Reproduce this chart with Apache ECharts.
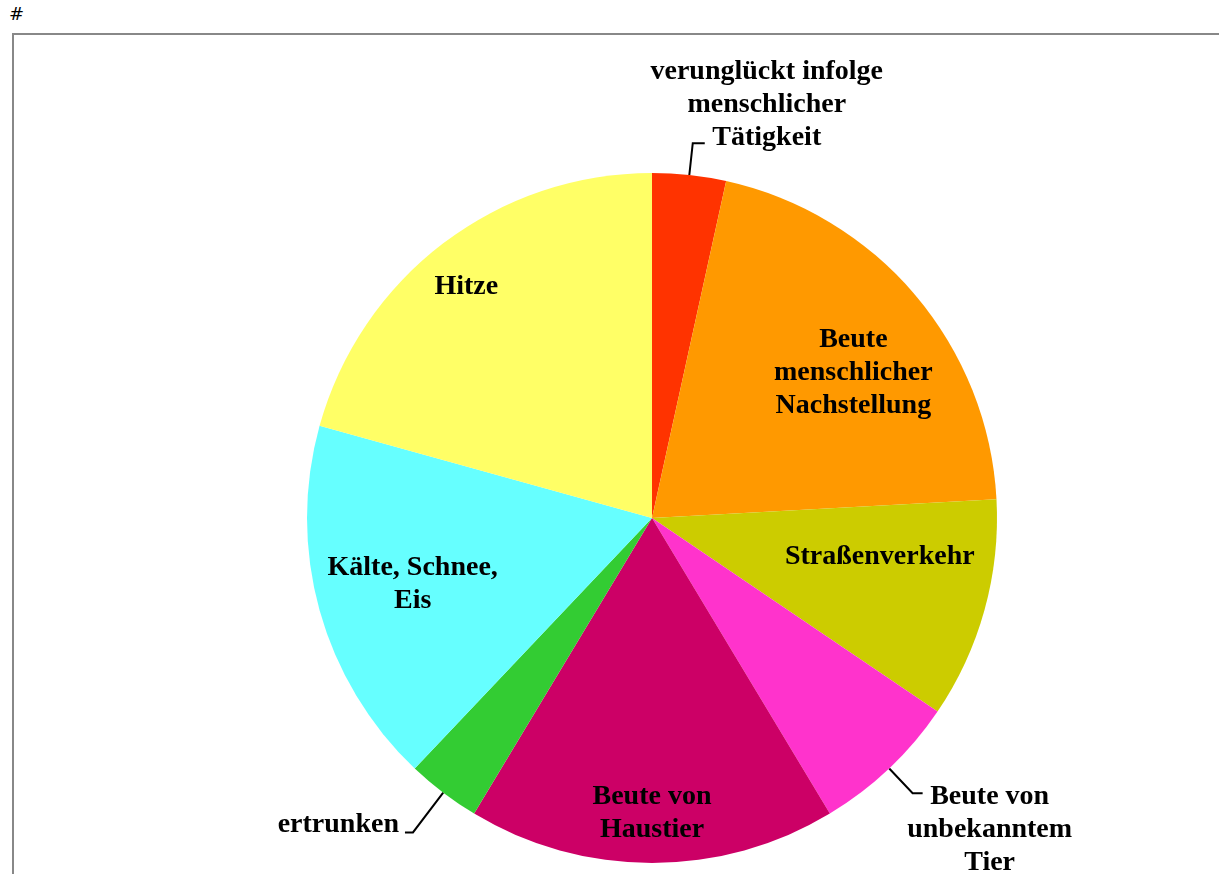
<!DOCTYPE html>
<html>
<head>
<meta charset="utf-8">
<title>Todesursachen</title>
<script src="https://cdn.jsdelivr.net/npm/echarts@6/dist/echarts.min.js"></script>
<style>
  html, body { margin: 0; padding: 0; width: 1219px; height: 874px; overflow: hidden; background: #fff; }
  #hash { position: absolute; left: 9px; top: 3px; font-family: 'DejaVu Sans', sans-serif; font-size: 18px; font-weight: normal; color: #000; }
  #frame { position: absolute; left: 12px; top: 33px; width: 1400px; height: 1000px; border: 2px solid #888; }
  #pie { position: absolute; left: 0; top: 0; width: 1219px; height: 874px; }
</style>
</head>
<body>
<div id="hash">#</div>
<div id="frame"></div>
<div id="pie"></div>
<script>
// Fälle je Ursache, im Uhrzeigersinn ab 12 Uhr
var categories = [
  'verunglückt infolge\nmenschlicher\nTätigkeit',
  'Beute\nmenschlicher\nNachstellung',
  'Straßenverkehr',
  'Beute von\nunbekanntem\nTier',
  'Beute von\nHaustier',
  'ertrunken',
  'Kälte, Schnee,\nEis',
  'Hitze'
];
var values = [1, 6, 3, 2, 5, 1, 5, 6];
var colors = ['#ff3300', '#ff9900', '#cccc00', '#ff33cc', '#cc0066', '#33cc33', '#66ffff', '#ffff66'];

// innen: Abstand vom Mittelpunkt (Anteil am Radius) und Drehung in Grad
var labelRadius = [0, 0.72, 0.67, 0, 0.855, 0, 0.72, 0.86];
var labelTurn = [0, 4.5, -5.8, 0, 0, 0, 0, -1.5];
// außen: Text hängt am Ende der Führungslinie
var outerLabels = {
  0: { align: 'center', verticalAlign: 'bottom', shiftX: 62, shiftY: 11, length: 32, length2: 12 },
  3: { align: 'center', verticalAlign: 'top', shiftX: 67, shiftY: -13, length: 34, length2: 10 },
  5: { align: 'right', verticalAlign: 'middle', shiftX: -6, shiftY: -8, length: 50, length2: 8 }
};

var CX = 652, CY = 518, R = 345;

var data = categories.map(function (name, i) {
  var o = outerLabels[i];
  return {
    name: name,
    value: values[i],
    itemStyle: { color: colors[i] },
    label: { position: o ? 'outside' : 'inside' },
    labelLine: o ? { show: true, length: o.length, length2: o.length2 } : { show: false }
  };
});

var myChart = echarts.init(document.getElementById('pie'));
myChart.setOption({
  animation: false,
  series: [{
    type: 'pie',
    center: [CX, CY],
    radius: R,
    startAngle: 90,
    clockwise: true,
    avoidLabelOverlap: false,
    itemStyle: { borderWidth: 0 },
    label: {
      color: '#000',
      fontFamily: 'Liberation Serif',
      fontWeight: 'bold',
      fontSize: 28,
      lineHeight: 33,
      distanceToLabelLine: 0
    },
    labelLine: { lineStyle: { color: '#000', width: 2 } },
    emphasis: { disabled: true },
    labelLayout: function (p) {
      var i = p.dataIndex, o = outerLabels[i];
      if (o) {
        var pts = p.labelLinePoints;
        var end = pts[pts.length - 1];
        return {
          x: end[0] + o.shiftX, y: end[1] + o.shiftY,
          align: o.align, verticalAlign: o.verticalAlign,
          labelLinePoints: pts
        };
      }
      var lx = p.labelRect.x + p.labelRect.width / 2;
      var ly = p.labelRect.y + p.labelRect.height / 2;
      var a = Math.atan2(lx - CX, CY - ly) + labelTurn[i] * Math.PI / 180;
      var d = R * labelRadius[i];
      return { x: CX + d * Math.sin(a), y: CY - d * Math.cos(a), align: 'center', verticalAlign: 'middle' };
    },
    data: data
  }]
});
window.addEventListener('resize', function () {
  myChart.resize();
});
</script>
</body>
</html>
